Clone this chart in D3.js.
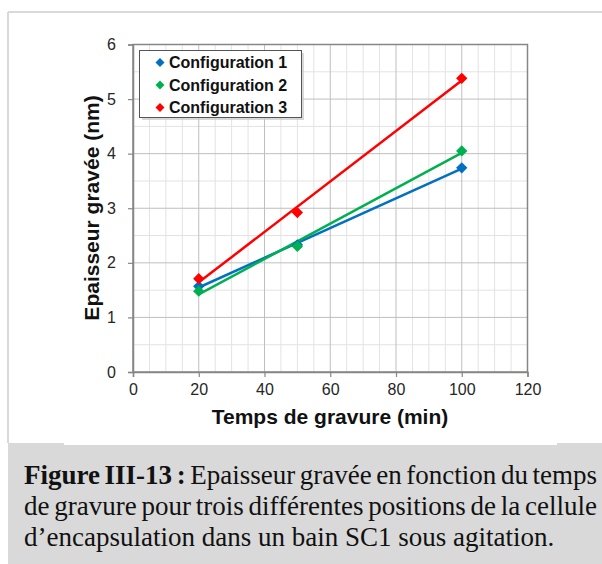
<!DOCTYPE html>
<html><head><meta charset="utf-8">
<script src="https://cdn.jsdelivr.net/npm/d3@7"></script>
<style>html,body{margin:0;padding:0;background:#fff;}svg{display:block;}</style>
</head><body>
<svg id="c" width="602" height="564"></svg>
<script>
const times = [20, 50, 100];
const config1 = [1.57, 2.33, 3.74];
const config2 = [1.48, 2.30, 4.05];
const config3 = [1.71, 2.92, 5.38];
const seriesNames = ["Configuration 1", "Configuration 2", "Configuration 3"];
const seriesColors = ["#0070C0", "#00B050", "#FF0000"];
const xTicks = [0, 20, 40, 60, 80, 100, 120];
const yTicks = [0, 1, 2, 3, 4, 5, 6];
const xTitle = "Temps de gravure (min)";
const yTitle = "Epaisseur gravée (nm)";
const captionBold = "Figure III-13 :";
const captionLines = [" Epaisseur gravée en fonction du temps",
  "de gravure pour trois différentes positions de la cellule",
  "d’encapsulation dans un bain SC1 sous agitation."];

const svg = d3.select("#c");
// frame
svg.append("rect").attr("x",8).attr("y",443).attr("width",594).attr("height",121).attr("fill","#d9d9d9");
svg.append("line").attr("x1",8).attr("x2",602).attr("y1",12).attr("y2",12).attr("stroke","#d9d9d9").attr("stroke-width",2);
svg.append("line").attr("x1",8).attr("x2",8).attr("y1",12).attr("y2",443).attr("stroke","#d9d9d9").attr("stroke-width",2);
svg.append("rect").attr("x",64).attr("y",442).attr("width",493).attr("height",3).attr("fill","#fff");

const x = d3.scaleLinear().domain([0,120]).range([133,527.5]);
const y = d3.scaleLinear().domain([0,6]).range([372,44.5]);

const g = svg.append("g");
// minor grid
const minorX = d3.range(5,120,5).filter(v=>v%20!==0);
const minorY = d3.range(0.5,6,1);
g.selectAll(".mx").data(minorX).join("line").attr("x1",d=>x(d)).attr("x2",d=>x(d)).attr("y1",y(0)).attr("y2",y(6)).attr("stroke","#e3e3e3").attr("stroke-width",1);
g.selectAll(".my").data(minorY).join("line").attr("y1",d=>y(d)).attr("y2",d=>y(d)).attr("x1",x(0)).attr("x2",x(120)).attr("stroke","#e3e3e3").attr("stroke-width",1);
// major grid
g.selectAll(".Mx").data(xTicks.slice(1)).join("line").attr("x1",d=>x(d)).attr("x2",d=>x(d)).attr("y1",y(0)).attr("y2",y(6)).attr("stroke","#bfbfbf").attr("stroke-width",1);
g.selectAll(".My").data(yTicks.slice(1)).join("line").attr("y1",d=>y(d)).attr("y2",d=>y(d)).attr("x1",x(0)).attr("x2",x(120)).attr("stroke","#bfbfbf").attr("stroke-width",1);
// border
g.append("rect").attr("x",x(0)).attr("y",y(6)).attr("width",x(120)-x(0)).attr("height",y(0)-y(6)).attr("fill","none").attr("stroke","#868686").attr("stroke-width",1.5);

const ax = svg.append("g").attr("transform",`translate(0,${y(0)})`).call(d3.axisBottom(x).tickValues(xTicks).tickSize(5).tickPadding(7).tickFormat(d3.format("d")));
const ay = svg.append("g").attr("transform",`translate(${x(0)},0)`).call(d3.axisLeft(y).tickValues(yTicks).tickSize(5).tickPadding(12).tickFormat(d3.format("d")));
[ax,ay].forEach(a=>{
  a.attr("font-family","Liberation Sans, Arial, sans-serif").attr("font-size",16);
  a.select(".domain").attr("stroke","#868686").attr("stroke-width",1.5);
  a.selectAll(".tick line").attr("stroke","#868686").attr("stroke-width",1.2);
  a.selectAll("text").attr("fill","#262626");
});

// titles
svg.append("text").attr("x",330).attr("y",424).attr("text-anchor","middle").attr("font-family","Liberation Sans, Arial, sans-serif").attr("font-weight","bold").attr("font-size",21).attr("fill","#111").text(xTitle);
svg.append("text").attr("transform","translate(99,208) rotate(-90)").attr("text-anchor","middle").attr("font-family","Liberation Sans, Arial, sans-serif").attr("font-weight","bold").attr("font-size",21).attr("fill","#111").text(yTitle);

// series
const allSeries = [config1, config2, config3];
const diamond = d3.symbol().type(d3.symbolSquare).size(64);
allSeries.forEach((vals,i)=>{
  const mx = d3.mean(times), my = d3.mean(vals);
  const sxy = d3.sum(times.map((t,k)=>(t-mx)*(vals[k]-my)));
  const sxx = d3.sum(times.map(t=>(t-mx)*(t-mx)));
  const b = sxy/sxx, a0 = my - b*mx;
  const x0 = d3.min(times), x1 = d3.max(times);
  svg.append("line").attr("x1",x(x0)).attr("y1",y(a0+b*x0)).attr("x2",x(x1)).attr("y2",y(a0+b*x1)).attr("stroke",seriesColors[i]).attr("stroke-width",2.5);
});
allSeries.forEach((vals,i)=>{
  svg.append("g").selectAll("path").data(times.map((t,k)=>[t,vals[k]])).join("path")
    .attr("d",diamond).attr("transform",d=>`translate(${x(d[0])},${y(d[1])}) rotate(45)`).attr("fill",seriesColors[i]);
});

// legend
const lg = svg.append("g");
lg.append("rect").attr("x",142).attr("y",53).attr("width",162).attr("height",67).attr("fill","#c8c8c8").attr("opacity",0.7);
lg.append("rect").attr("x",139.5).attr("y",50.5).attr("width",162).attr("height",67).attr("fill","#fff").attr("stroke","#555").attr("stroke-width",1);
seriesNames.forEach((nm,i)=>{
  const yy = 62.5 + i*22.5;
  lg.append("path").attr("d",d3.symbol().type(d3.symbolSquare).size(40)).attr("transform",`translate(160,${yy}) rotate(45)`).attr("fill",seriesColors[i]);
  lg.append("text").attr("x",169).attr("y",yy).attr("dy","0.36em").attr("font-family","Liberation Sans, Arial, sans-serif").attr("font-weight","bold").attr("font-size",16).attr("fill","#111").text(nm);
});

// caption
const capX = 24, capW = 573;
const baselines = [484, 515, 546];
const cap = svg.append("g").attr("font-family","Liberation Serif, Times New Roman, serif").attr("font-size",27).attr("fill","#111");
const t1 = cap.append("text").attr("x",capX).attr("y",baselines[0]);
t1.append("tspan").attr("font-weight","bold").text(captionBold);
t1.append("tspan").text(captionLines[0]);
const t2 = cap.append("text").attr("x",capX).attr("y",baselines[1]).text(captionLines[1]);
cap.append("text").attr("x",capX).attr("y",baselines[2]).text(captionLines[2]);
[[t1, (captionBold+captionLines[0]).split(" ").length-1],[t2, captionLines[1].split(" ").length-1]].forEach(([t,spaces])=>{
  const w = t.node().getComputedTextLength();
  const extra = (capW - w)/spaces;
  t.attr("word-spacing", extra);
});
</script>
</body></html>
